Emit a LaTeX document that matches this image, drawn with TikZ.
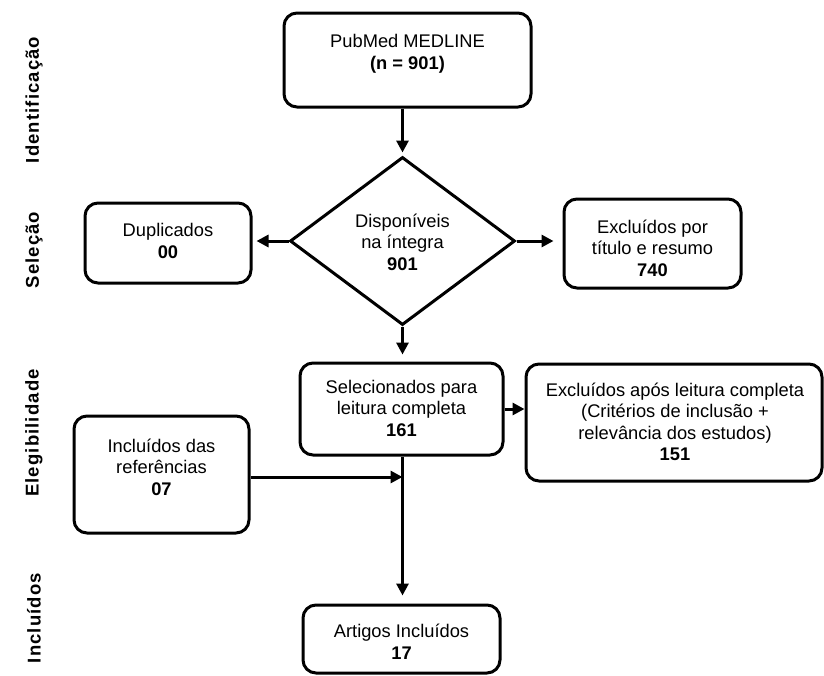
\documentclass[tikz,border=0pt]{standalone}
\usepackage{fontspec}
\setmainfont{Liberation Sans}
\newfontfamily\sidefont[LetterSpace=6]{Liberation Sans}
\usetikzlibrary{shapes.geometric,arrows.meta}
\begin{document}
\begin{tikzpicture}[x=1pt,y=-1pt,
  box/.style={draw, line width=3pt, rounded corners=13pt, inner sep=0pt},
  txt/.style={align=center, font=\fontsize{18.3}{21.5}\selectfont, inner sep=0pt},
  side/.style={rotate=90, font=\fontsize{18.5}{20}\sidefont\bfseries, inner sep=0pt},
  arr/.style={line width=3pt, -{Triangle[length=12pt,width=12pt]}}]
\useasboundingbox (0,0) rectangle (824,675);
% side labels
\node[side] (l1) at (34,100) {Identificação};
\node[side] (l2) at (34,250) {Seleção};
\node[side] (l3) at (34,433) {Elegibilidade};
\node[side] (l4) at (34,618) {Incluídos};
% boxes
\node[box, minimum width=247pt, minimum height=94pt] (pub) at (407.5,60) {};
\node[txt] (pubt) at (407.5,54) {PubMed MEDLINE\\\textbf{(n = 901)}};
\node[draw, diamond, line width=3pt, minimum width=225pt, minimum height=168pt, aspect=1.34, inner sep=0pt] (dia) at (402.5,241) {};
\node[txt] (diat) at (402.5,242) {Disponíveis\\na íntegra\\\textbf{901}};
\node[box, minimum width=166pt, minimum height=80pt] (dup) at (168,243) {};
\node[txt] (dupt) at (168,241) {Duplicados\\\textbf{00}};
\node[box, minimum width=177pt, minimum height=89pt] (exc1) at (652.5,243.5) {};
\node[txt] (exc1t) at (652.5,248) {Excluídos por\\título e resumo\\\textbf{740}};
\node[box, minimum width=203pt, minimum height=92pt] (sel) at (401.5,409) {};
\node[txt] (selt) at (401.5,408) {Selecionados para\\leitura completa\\\textbf{161}};
\node[box, minimum width=296pt, minimum height=117pt] (exc2) at (674,422.5) {};
\node[txt] (exc2t) at (675,422) {Excluídos após leitura completa\\(Critérios de inclusão +\\relevância dos estudos)\\\textbf{151}};
\node[box, minimum width=175pt, minimum height=117pt] (inc) at (161.5,474.5) {};
\node[txt] (inct) at (161.5,467) {Incluídos das\\referências\\\textbf{07}};
\node[box, minimum width=197pt, minimum height=68pt] (art) at (401.5,639) {};
\node[txt] (artt) at (401.5,642) {Artigos Incluídos\\\textbf{17}};
% connectors
\draw[arr, shorten >=3pt] (pub.south -| dia.north) -- (dia.north);
\draw[arr, shorten >=4pt] (dia.west) -- (dia.west -| dup.east);
\draw[arr, shorten >=9pt] (dia.east) -- (dia.east -| exc1.west);
\draw[arr, shorten >=7pt] (dia.south) -- (dia.south |- sel.north);
\draw[arr] (sel.east) -- (sel.east -| exc2.west);
\draw[arr, shorten >=8pt] (sel.south -| dia.south) -- (dia.south |- art.north);
\coordinate (join) at (402.5,477);
\draw[arr] (inc.east |- join) -- (join);
\end{tikzpicture}
\end{document}
